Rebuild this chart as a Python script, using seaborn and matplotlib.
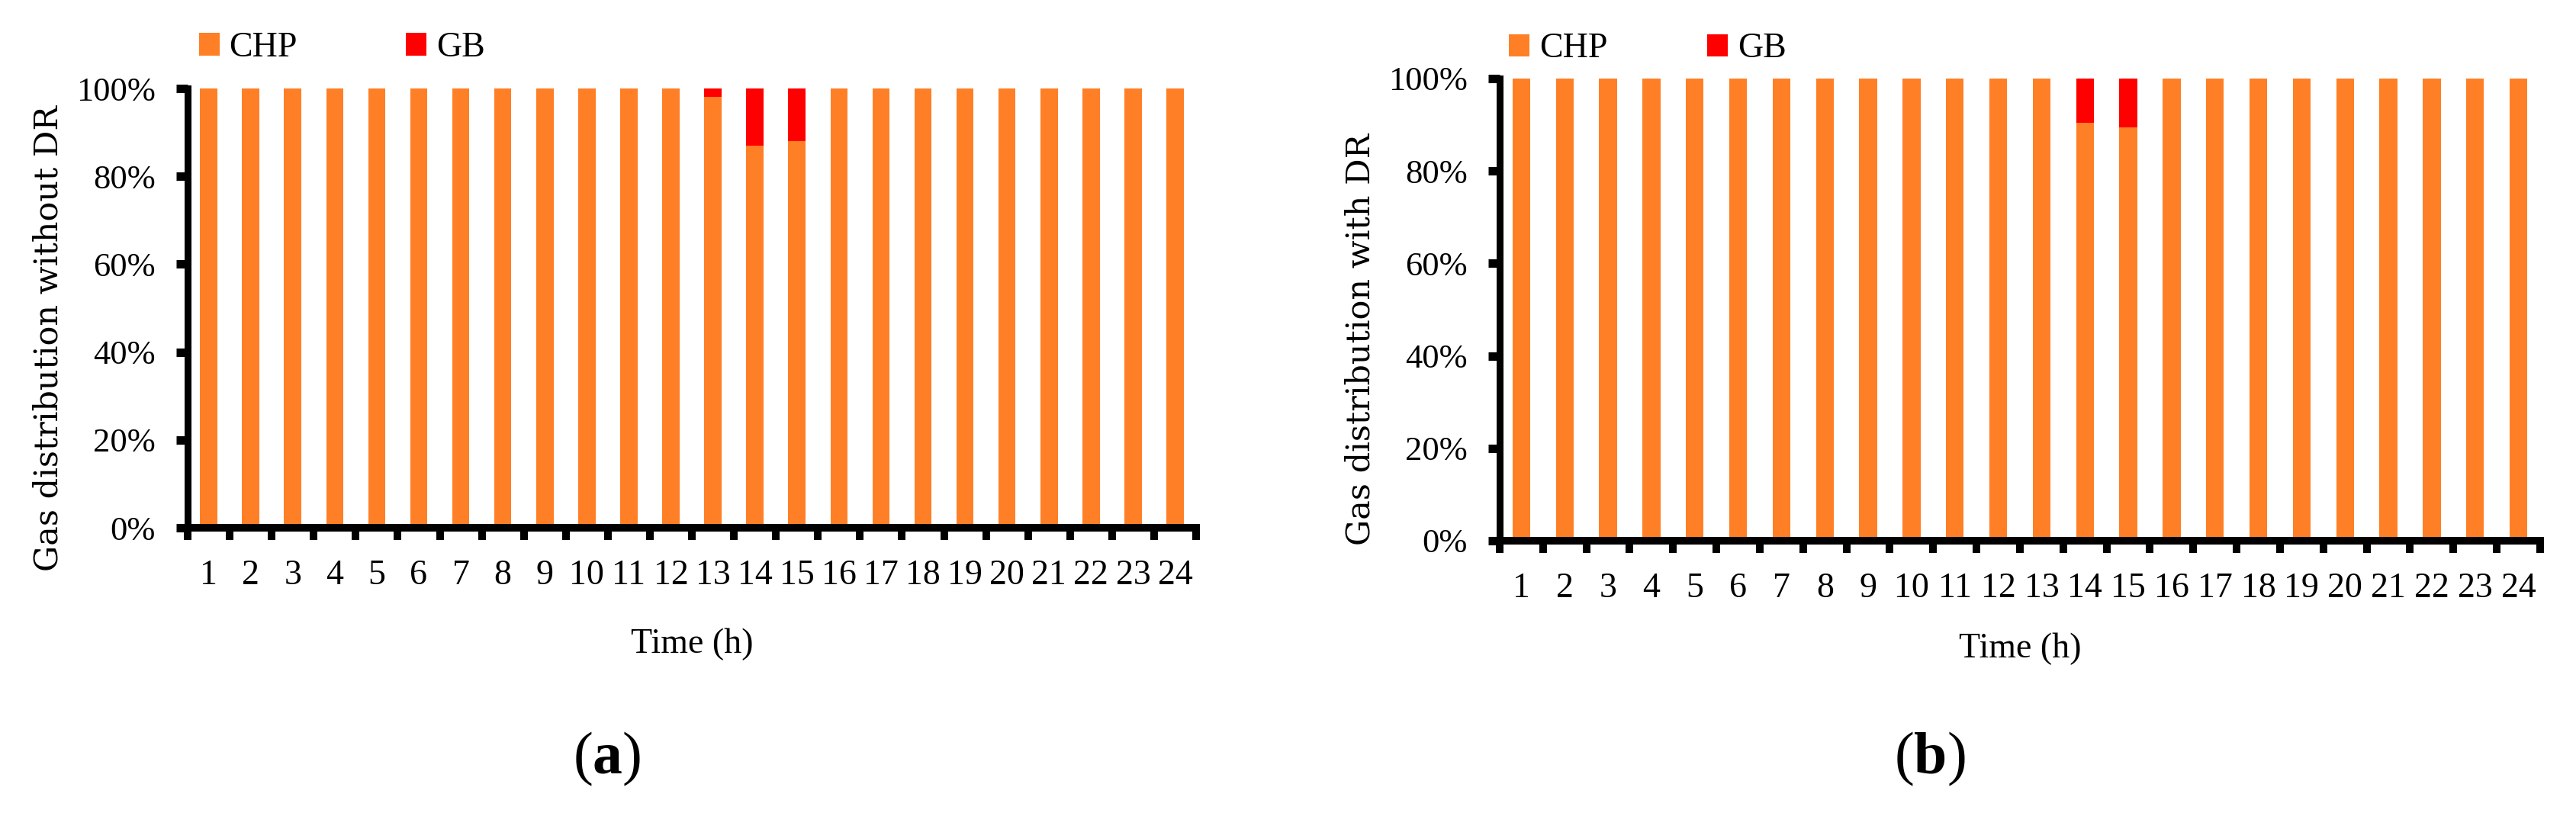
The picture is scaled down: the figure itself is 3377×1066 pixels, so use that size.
import numpy as np
import pandas as pd
import matplotlib
matplotlib.use("Agg")
import matplotlib.pyplot as plt
from matplotlib.patches import Patch
import seaborn as sns

# --- data (share of gas, %) ---
hours = [str(h) for h in range(1, 25)]

chp_no_dr = [100, 100, 100, 100, 100, 100, 100, 100, 100, 100, 100, 100,
             98.1, 87.0, 88.1, 100, 100, 100, 100, 100, 100, 100, 100, 100]
gb_no_dr = [0, 0, 0, 0, 0, 0, 0, 0, 0, 0, 0, 0,
            1.9, 13.0, 11.9, 0, 0, 0, 0, 0, 0, 0, 0, 0]

chp_dr = [100, 100, 100, 100, 100, 100, 100, 100, 100, 100, 100, 100,
          100, 90.5, 89.5, 100, 100, 100, 100, 100, 100, 100, 100, 100]
gb_dr = [0, 0, 0, 0, 0, 0, 0, 0, 0, 0, 0, 0,
         0, 9.5, 10.5, 0, 0, 0, 0, 0, 0, 0, 0, 0]

series_names = ["CHP", "GB"]
ylabels = ["Gas distribution without DR", "Gas distribution with DR"]
captions = ["a", "b"]

ORANGE = "#FF7F27"
RED = "#FF0000"

sns.set_theme(style="white")
plt.rcParams["font.family"] = ["Liberation Serif", "DejaVu Serif"]
plt.rcParams["mathtext.fontset"] = "custom"
plt.rcParams["mathtext.rm"] = "Liberation Serif"
plt.rcParams["mathtext.bf"] = "Liberation Serif:bold"
for k in ["text.color", "axes.labelcolor", "xtick.color", "ytick.color"]:
    plt.rcParams[k] = "black"

fig = plt.figure(figsize=(33.77, 10.66), dpi=100)

# axes boxes in figure fraction: left, bottom, width, height
boxes = [[0.07285, 0.35084, 0.39147, 0.54034],
         [0.58217, 0.33490, 0.40391, 0.56848]]
ylabel_pos = [(-0.138, 0.432), (-0.134, 0.436)]
xlabel_y = [-0.266, -0.234]
legend_pos = [(0.011, 1.092), (0.009, 1.064)]
legend_gap = [3.1, 2.84]
caption_pos = [(0.2357, 0.0666), (0.749, 0.0666)]

panels = [(chp_no_dr, gb_no_dr), (chp_dr, gb_dr)]

for i, (chp, gb) in enumerate(panels):
    ax = fig.add_axes(boxes[i])
    df = pd.DataFrame({"hour": hours, "CHP": chp, "GB": gb})
    df["total"] = df["CHP"] + df["GB"]

    # stacked bars: total in red first, CHP in orange over it
    sns.barplot(data=df, x="hour", y="total", color=RED, width=0.41,
                saturation=1, ax=ax, order=hours)
    sns.barplot(data=df, x="hour", y="CHP", color=ORANGE, width=0.41,
                saturation=1, ax=ax, order=hours)
    for p in ax.patches:
        p.set_linewidth(0)

    ax.set_xlim(-0.5, len(hours) - 0.5)
    ax.set_ylim(0, 100)
    ax.set_yticks(np.arange(0, 101, 20))
    ax.set_yticklabels([f"{v}%" for v in range(0, 101, 20)], fontsize=32)

    # labels centred under bars, tick marks between categories
    ax.set_xticks(np.arange(len(hours)))
    ax.set_xticklabels(hours, fontsize=33)
    ax.set_xticks(np.arange(-0.5, len(hours), 1), minor=True)
    ax.tick_params(axis="x", which="major", length=0, pad=30)
    ax.tick_params(axis="x", which="minor", length=11.5, width=7.2,
                   color="black", direction="out", bottom=True)
    ax.tick_params(axis="y", length=10.5, width=8, color="black",
                   direction="out", left=True, pad=20)

    for s in ["top", "right"]:
        ax.spines[s].set_visible(False)
    ax.spines["left"].set_linewidth(6.5)
    ax.spines["left"].set_color("black")
    ax.spines["bottom"].set_linewidth(7.2)
    ax.spines["bottom"].set_color("black")
    ax.spines["bottom"].set_capstyle("projecting")
    ax.grid(False)

    ax.set_xlabel("Time (h)", fontsize=33)
    ax.xaxis.set_label_coords(0.5, xlabel_y[i])
    ax.xaxis.label.set_va("center")
    ax.set_ylabel(ylabels[i], fontsize=31, family=["DejaVu Serif"])
    ax.yaxis.set_label_coords(*ylabel_pos[i])
    ax.yaxis.label.set_va("center")

    handles = [Patch(facecolor=ORANGE, edgecolor="none"),
               Patch(facecolor=RED, edgecolor="none")]
    ax.legend(handles, series_names, loc="center left",
              bbox_to_anchor=legend_pos[i], ncol=2, frameon=False,
              fontsize=33, handlelength=0.59, handleheight=0.61,
              handletextpad=0.28, columnspacing=legend_gap[i],
              borderaxespad=0, borderpad=0)

    fig.text(caption_pos[i][0], caption_pos[i][1],
             r"($\mathbf{" + captions[i] + r"}$)",
             fontsize=56, ha="center", va="center")

fig.savefig("out.png", dpi=100)
